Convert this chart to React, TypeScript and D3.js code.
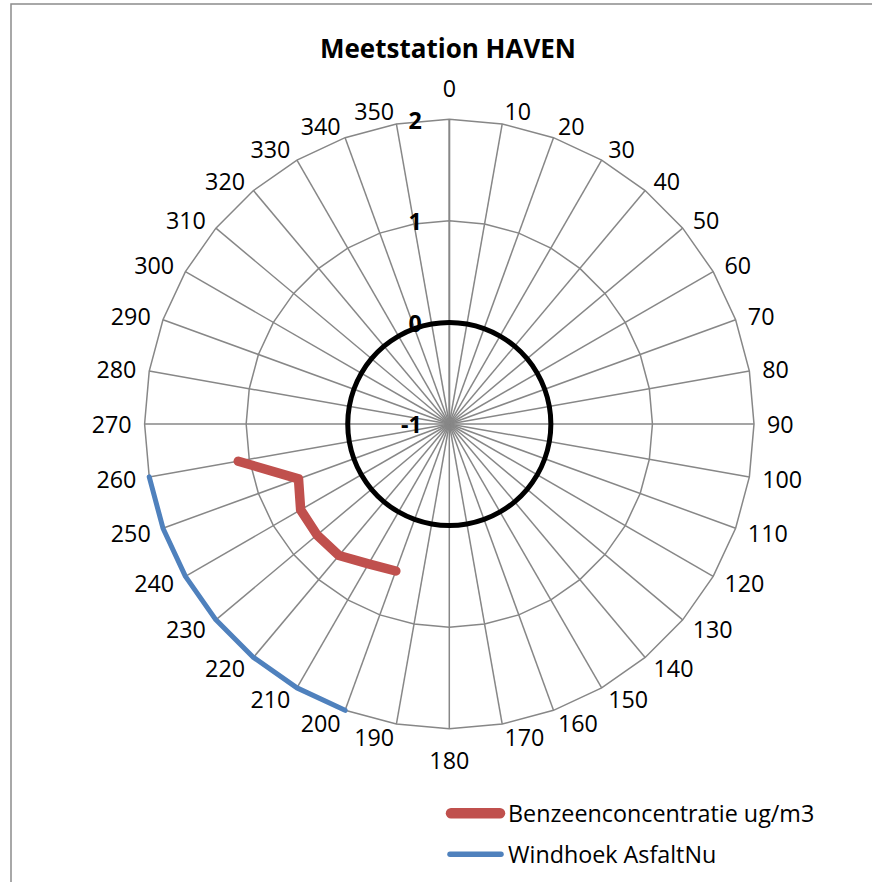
import React from "react";
import * as d3 from "d3";

const angles: number[] = d3.range(0, 360, 10);
const angleLabels: string[] = angles.map((a) => String(a));
const radialTicks: number[] = [-1, 0, 1, 2];

// Benzeenconcentratie ug/m3 (only 200..260 present)
const benzeenAngles: number[] = [200, 210, 220, 230, 240, 250, 260];
const benzeenValues: number[] = [0.54, 0.59, 0.69, 0.7, 0.69, 0.58, 1.11];

// Windhoek AsfaltNu
const windAngles: number[] = [200, 210, 220, 230, 240, 250, 260];
const windValues: number[] = [2, 2, 2, 2, 2, 2, 2];

// reference ring at 0
const zeroRing: number[] = angles.map(() => 0);

const title = "Meetstation HAVEN";
const seriesNames = ["Benzeenconcentratie ug/m3", "Windhoek AsfaltNu"];

const W = 872;
const H = 882;
const cx = 449.3;
const cy = 424;
const R = 304.7;
const FONT = "'Open Sans', Lato, sans-serif";
const FS = 23.3;
const GRID = "#878787";
const RED = "#C0504D";
const BLUE = "#4F81BD";

export default function App() {
  const r = d3.scaleLinear().domain([-1, 2]).range([0, R]);
  const rad = (a: number) => (a * Math.PI) / 180;
  const px = (a: number, v: number) => cx + r(v) * Math.sin(rad(a));
  const py = (a: number, v: number) => cy - r(v) * Math.cos(rad(a));

  const gridPoly = (v: number) =>
    angles.map((a) => `${px(a, v)},${py(a, v)}`).join(" ");

  const radial = d3
    .lineRadial<[number, number]>()
    .angle((d) => rad(d[0]))
    .radius((d) => r(d[1]));

  const ringPath = d3
    .lineRadial<[number, number]>()
    .angle((d) => rad(d[0]))
    .radius((d) => r(d[1]))
    .curve(d3.curveCatmullRomClosed)(angles.map((a, i) => [a, zeroRing[i]]));

  const benzPath = radial(benzeenAngles.map((a, i) => [a, benzeenValues[i]]));
  const windPath = radial(windAngles.map((a, i) => [a, windValues[i]]));

  return (
    <svg
      width={W}
      height={H}
      style={{ position: "absolute", left: 0, top: 0, background: "#fff" }}
    >
      <rect x={0} y={0} width={W} height={H} fill="#fff" />
      <rect
        x={11}
        y={4}
        width={W + 20}
        height={H + 20}
        fill="none"
        stroke="#8c8c8c"
        strokeWidth={1.5}
      />
      <text
        x={448}
        y={58}
        textAnchor="middle"
        fontFamily={FONT}
        fontWeight="bold"
        fontSize={26}
        fill="#000"
      >
        {title}
      </text>

      {/* grid polygons */}
      {radialTicks
        .filter((t) => t > -1)
        .map((t) => (
          <polygon
            key={t}
            points={gridPoly(t)}
            fill="none"
            stroke={GRID}
            strokeWidth={1.5}
          />
        ))}
      {/* spokes */}
      {angles.map((a) => (
        <line
          key={a}
          x1={cx}
          y1={cy}
          x2={px(a, 2)}
          y2={py(a, 2)}
          stroke={GRID}
          strokeWidth={a === 0 ? 2 : 1.5}
        />
      ))}

      {/* zero ring */}
      <path
        d={ringPath || ""}
        transform={`translate(${cx},${cy})`}
        fill="none"
        stroke="#000"
        strokeWidth={5}
      />

      {/* series */}
      <path
        d={windPath || ""}
        transform={`translate(${cx},${cy})`}
        fill="none"
        stroke={BLUE}
        strokeWidth={5}
        strokeLinejoin="round"
        strokeLinecap="round"
      />
      <path
        d={benzPath || ""}
        transform={`translate(${cx},${cy})`}
        fill="none"
        stroke={RED}
        strokeWidth={9.5}
        strokeLinejoin="round"
        strokeLinecap="round"
      />

      {/* radial tick labels */}
      {radialTicks.map((t) => (
        <text
          key={t}
          x={cx - 27.5}
          y={cy - r(t) + 1 + 8.3}
          textAnchor="end"
          fontFamily={FONT}
          fontWeight="bold"
          fontSize={FS}
          fill="#000"
        >
          {t}
        </text>
      ))}

      {/* angle labels */}
      {angles.map((a, i) => {
        const s = Math.sin(rad(a));
        const c = Math.cos(rad(a));
        const tx = px(a, 2);
        const ty = py(a, 2);
        let x = tx;
        let y = ty;
        let anchor: "start" | "middle" | "end" = "middle";
        if (a === 0) {
          y = ty - 22.6;
        } else if (a === 180) {
          y = ty + 40.5;
        } else {
          x = tx + 13 * s;
          anchor = s > 0 ? "start" : "end";
          y = ty - 13 * c + 1 + 8.3;
        }
        return (
          <text
            key={a}
            x={x}
            y={y}
            textAnchor={anchor}
            fontFamily={FONT}
            fontSize={FS}
            fill="#000"
          >
            {angleLabels[i]}
          </text>
        );
      })}

      {/* legend */}
      <line
        x1={451}
        y1={813.3}
        x2={500}
        y2={813.3}
        stroke={RED}
        strokeWidth={10.5}
        strokeLinecap="round"
      />
      <text x={508} y={821.7} fontFamily={FONT} fontSize={FS} fill="#000">
        {seriesNames[0]}
      </text>
      <line
        x1={450}
        y1={854.3}
        x2={501}
        y2={854.3}
        stroke={BLUE}
        strokeWidth={5.5}
        strokeLinecap="round"
      />
      <text x={508} y={862.7} fontFamily={FONT} fontSize={FS} fill="#000">
        {seriesNames[1]}
      </text>
    </svg>
  );
}
